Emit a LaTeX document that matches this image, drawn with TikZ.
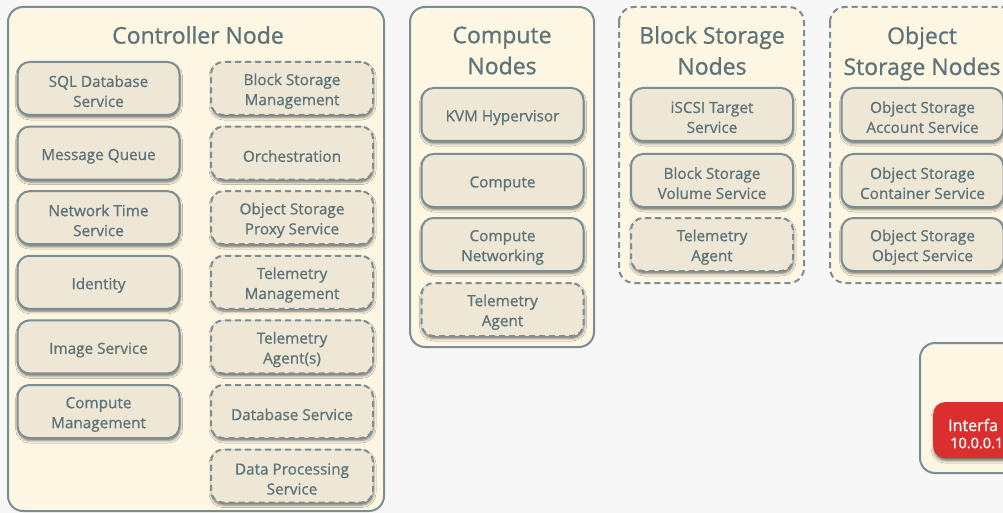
\documentclass[tikz,border=0pt]{standalone}
\usepackage{fontspec}
\setmainfont{Open Sans}
\newfontfamily\osb{Open Sans}[FakeBold=0.9]
\usetikzlibrary{shadows.blur}
\definecolor{bgc}{RGB}{247,247,247}
\definecolor{outerfill}{RGB}{253,246,227}
\definecolor{innerfill}{RGB}{238,231,213}
\definecolor{bordc}{RGB}{122,142,148}
\definecolor{txtc}{RGB}{93,115,121}
\definecolor{redc}{RGB}{217,48,47}
\tikzset{
  outerbox/.style={draw=bordc, line width=2pt, fill=outerfill, rounded corners=15pt},
  dashedouter/.style={outerbox, dash pattern=on 6pt off 4pt},
  titletext/.style={text=txtc, font=\osb\fontsize{23}{31}\selectfont, align=center, inner sep=0pt},
  svc/.style={draw=bordc, line width=2pt, fill=innerfill, rounded corners=12pt,
    minimum width=162pt, minimum height=53pt, inner sep=0pt, align=center,
    text=txtc, font=\osb\fontsize{15.3}{20}\selectfont,
    execute at begin node={\rule{0pt}{17.5pt}},
    blur shadow={shadow xshift=0.5pt, shadow yshift=-2.5pt, shadow blur radius=2.5pt, shadow opacity=55}},
  optsvc/.style={svc, dash pattern=on 6pt off 4pt},
  twoline/.style={execute at begin node={\rule{0pt}{37pt}}},
  iface/.style={draw=none, fill=redc, rounded corners=12pt, minimum width=150pt, minimum height=56pt,
    blur shadow={shadow xshift=0.5pt, shadow yshift=-2.5pt, shadow blur radius=2.5pt, shadow opacity=55}},
  ifacetext/.style={text=white, font=\osb\fontsize{14.5}{18}\selectfont, inner sep=0pt, anchor=west}
}
\begin{document}
\begin{tikzpicture}[x=1pt,y=-1pt]
\useasboundingbox (0,0) rectangle (1003,513);
\clip (0,0) rectangle (1003,513);
\fill[bgc] (0,0) rectangle (1003,513);

% Controller node
\draw[outerbox] (8,7) rectangle (384,511);
\node[titletext] (ctitle) at (198,35) {Controller Node};
\node[svc,twoline] (sql) at (98.5,88.5) {SQL Database\\Service};
\node[svc] (mq) at (98.5,153.1) {Message Queue};
\node[svc,twoline] (ntp) at (98.5,217.7) {Network Time\\Service};
\node[svc] (ident) at (98.5,282.3) {Identity};
\node[svc] (image) at (98.5,346.9) {Image Service};
\node[svc,twoline] (cmgmt) at (98.5,411.5) {Compute\\Management};
\node[optsvc,twoline] (bsm) at (292,88.5) {Block Storage\\Management};
\node[optsvc] (orch) at (292,153.1) {Orchestration};
\node[optsvc,twoline] (osp) at (292,217.7) {Object Storage\\Proxy Service};
\node[optsvc,twoline] (telm) at (292,282.3) {Telemetry\\Management};
\node[optsvc,twoline] (tela) at (292,346.9) {Telemetry\\Agent(s)};
\node[optsvc] (dbs) at (292,411.5) {Database Service};
\node[optsvc,twoline] (dps) at (292,476.1) {Data Processing\\Service};

% Compute nodes
\draw[outerbox] (410,7) rectangle (594,347);
\node[titletext] (comptitle) at (502,50.5) {Compute\\Nodes};
\node[svc] (kvm) at (502.5,114.5) {KVM Hypervisor};
\node[svc] (comp) at (502.5,180.5) {Compute};
\node[svc,twoline] (cnet) at (502.5,244.5) {Compute\\Networking};
\node[optsvc,twoline] (ctel) at (502.5,309.5) {Telemetry\\Agent};

% Block storage nodes
\draw[dashedouter] (619,7) rectangle (804,283);
\node[titletext] (bstitle) at (712,50.5) {Block Storage\\Nodes};
\node[svc,twoline] (iscsi) at (712,114.5) {iSCSI Target\\Service};
\node[svc,twoline] (bsvol) at (712,180.5) {Block Storage\\Volume Service};
\node[optsvc,twoline] (btel) at (712,244.5) {Telemetry\\Agent};

% Object storage nodes
\draw[dashedouter] (830,7) rectangle (1015,283);
\node[titletext] (ostitle) at (922,53.5) {Object\\Storage Nodes};
\node[svc,twoline] (osacc) at (922.5,114.5) {Object Storage\\Account Service};
\node[svc,twoline] (oscont) at (922.5,180.5) {Object Storage\\Container Service};
\node[svc,twoline] (osobj) at (922.5,244.5) {Object Storage\\Object Service};

% Bottom right box
\draw[outerbox] (920,343) rectangle (1100,473);
\node[iface, anchor=north west] (ifbox) at (933,402) {};
\node[ifacetext, font=\osb\fontsize{16}{18}\selectfont] (ifname) at (948,425) {Interfa};
\node[ifacetext] (ifaddr) at (950,443) {10.0.0.1};
\end{tikzpicture}
\end{document}
